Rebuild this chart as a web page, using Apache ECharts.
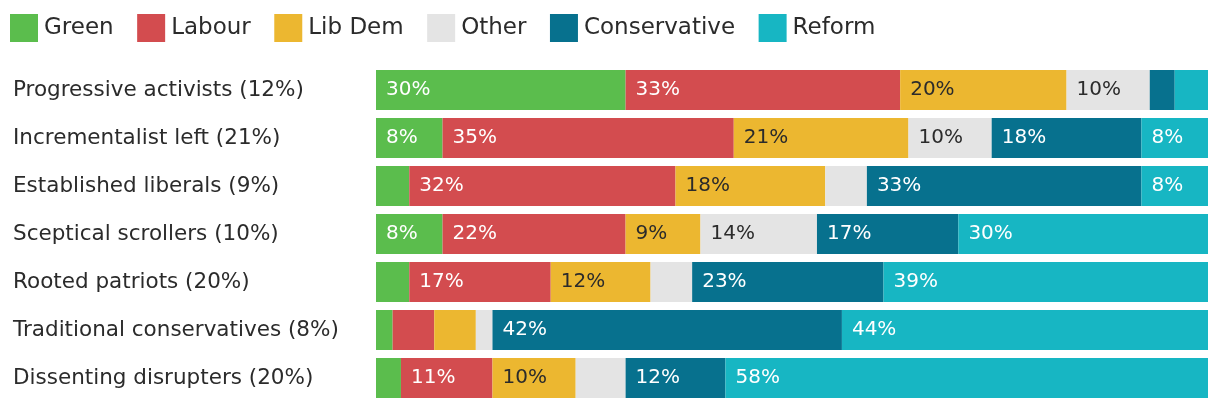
<!DOCTYPE html>
<html><head><meta charset="utf-8">
<script src="https://cdn.jsdelivr.net/npm/echarts@6/dist/echarts.min.js"></script>
<style>html,body{margin:0;padding:0;background:#fff}#c{width:1220px;height:408px}</style>
</head><body><div id="c"></div>
<script>
const categories = ["Progressive activists (12%)","Incrementalist left (21%)","Established liberals (9%)","Sceptical scrollers (10%)","Rooted patriots (20%)","Traditional conservatives (8%)","Dissenting disrupters (20%)"];
const seriesNames = ["Green","Labour","Lib Dem","Other","Conservative","Reform"];
const green = [30, 8, 4, 8, 4, 2, 3];
const labour = [33, 35, 32, 22, 17, 5, 11];
const libDem = [20, 21, 18, 9, 12, 5, 10];
const other = [10, 10, 5, 14, 5, 2, 6];
const conservative = [3, 18, 33, 17, 23, 42, 12];
const reform = [4, 8, 8, 30, 39, 44, 58];
const values = [green, labour, libDem, other, conservative, reform];
const colors = ["#5bbd4d","#d34c4f","#ecb730","#e4e4e4","#07718e","#17b6c3"];
const labelColors = ["#fff","#fff","#2b2b2b","#2b2b2b","#fff","#fff"];
const FONT = "DejaVu Sans";
const chart = echarts.init(document.getElementById('c'));
chart.setOption({
  animation:false,
  legend:{left:10,top:14,padding:0,itemWidth:28,itemHeight:28,itemGap:23.5,icon:'rect',
    textStyle:{fontFamily:FONT,fontSize:23,color:'#2b2b2b',padding:[0,0,0,1]},data:seriesNames},
  grid:{left:376,right:12,top:66,bottom:6,containLabel:false},
  xAxis:{type:'value',min:0,max:100,show:false},
  yAxis:{type:'category',data:categories,inverse:true,axisLine:{show:false},axisTick:{show:false},
    axisLabel:{margin:363,align:'left',fontFamily:FONT,fontSize:21.5,color:'#2b2b2b'}},
  series: seriesNames.map((n,i)=>({
    name:n,type:'bar',stack:'all',data:values[i],barCategoryGap:'16.7%',
    itemStyle:{color:colors[i]},
    label:{show:true,position:'insideLeft',distance:10,fontFamily:FONT,fontSize:20,color:labelColors[i],
      formatter:p=>p.value>=8?p.value+'%':''}
  }))
});
</script></body></html>
